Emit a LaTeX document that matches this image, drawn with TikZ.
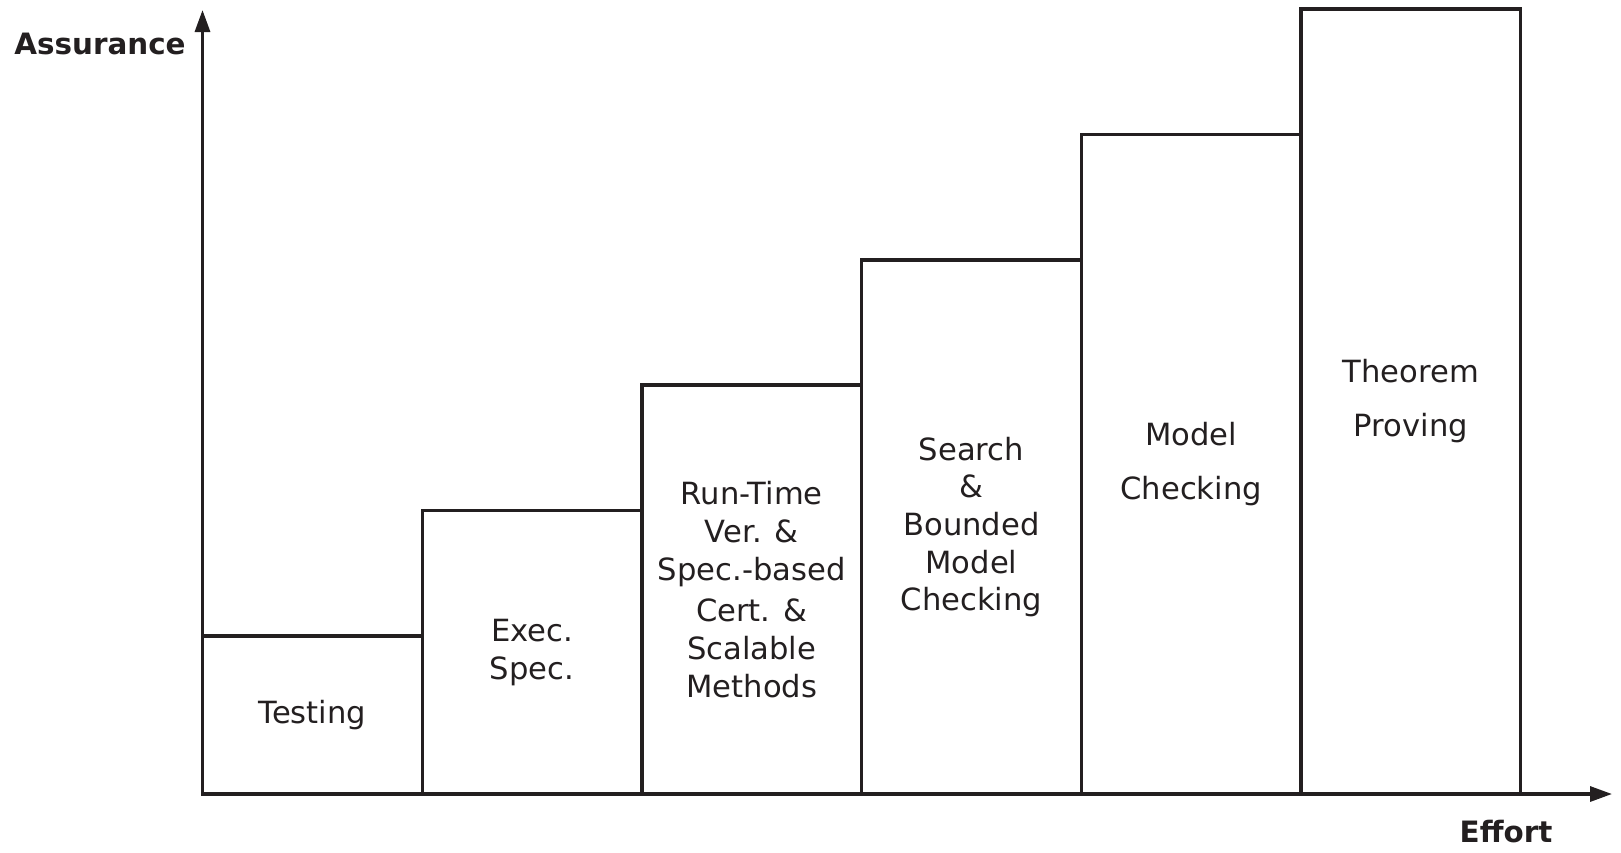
\documentclass[tikz,border=0pt]{standalone}
\usepackage{fontspec}
\setmainfont{DejaVu Sans}
\usetikzlibrary{arrows.meta}
\definecolor{ink}{HTML}{231F20}
\tikzset{
  box/.style={draw=ink, line width=1.6pt, outer sep=0pt, inner sep=0pt,
    minimum width=109.85pt, anchor=south west, align=center, text=ink,
    font=\fontsize{15.3}{18.8}\selectfont},
  axis/.style={draw=ink, line width=1.6pt, -{Triangle[length=11pt,width=7.5pt]}},
  axlabel/.style={text=ink, font=\bfseries\fontsize{14.7}{17}\selectfont, anchor=base, inner sep=0pt}
}
\begin{document}
\begin{tikzpicture}[x=0.5pt,y=-0.5pt]
\useasboundingbox (0,0) rectangle (1621,852);
\coordinate (O) at (202.5,794);
\coordinate (ytop) at (202.5,10);
\coordinate (xend) at (1612,794);
\node[box, minimum height=79pt] (b1) at (202.5,794) {Testing};
\node[box, minimum height=141.75pt] (b2) at (422.2,794) {Exec.\\Spec.};
\node[box, minimum height=204.5pt, font=\fontsize{15.3}{19}\selectfont] (b3) at (641.9,794) {Run-Time\\Ver. \&\\Spec.-based\\[1.5pt]Cert. \&\\Scalable\\Methods};
\node[box, minimum height=267pt, font=\fontsize{15.3}{18.8}\selectfont] (b4) at (861.6,794) {Search\\\&\\Bounded\\Model\\Checking};
\node[box, minimum height=329.75pt, font=\fontsize{15.3}{27}\selectfont] (b5) at (1081.3,794) {Model\\Checking};
\node[box, minimum height=392.5pt, font=\fontsize{15.3}{27}\selectfont] (b6) at (1301,794) {Theorem\\Proving};
\draw[axis] (O) -- (ytop);
\draw[axis] (O) -- (xend);
\node[axlabel] (ya) at (100,54) {Assurance};
\node[axlabel] (xa) at (1506,842) {Effort};
\end{tikzpicture}
\end{document}
